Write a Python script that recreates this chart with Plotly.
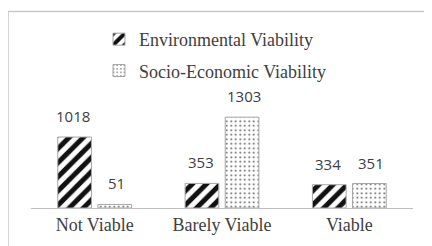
import plotly.graph_objects as go

categories = ["Not Viable", "Barely Viable", "Viable"]
env_values = [1018, 353, 334]
socio_values = [51, 1303, 351]
series_names = ["Environmental Viability", "Socio-Economic Viability"]

TEXT = "#404040"
SERIF = "Liberation Serif, Times New Roman, serif"
SANS = "Open Sans, Liberation Sans, sans-serif"

fig = go.Figure()
fig.add_trace(go.Bar(
    x=categories, y=env_values, name=series_names[0], legendgroup="a",
    marker=dict(color="white", line=dict(color="#a6a6a6", width=1),
                pattern=dict(shape="/", fgcolor="#111111", bgcolor="white",
                             fgopacity=1, fillmode="replace",
                             size=10, solidity=0.5)),
))
fig.add_trace(go.Bar(
    x=categories, y=socio_values, name=series_names[1], legendgroup="b",
    marker=dict(color="white", line=dict(color="#a6a6a6", width=1),
                pattern=dict(shape=".", fgcolor="#555555", bgcolor="white",
                             fgopacity=1, fillmode="replace",
                             size=4.5, solidity=0.14)),
))

# value labels above the bars
for vals, shift in ((env_values, -21.5), (socio_values, 21.5)):
    for c, v in zip(categories, vals):
        fig.add_annotation(x=c, y=v, text=str(v), showarrow=False,
                           xshift=shift, yshift=9, yanchor="bottom",
                           font=dict(family=SANS, size=15, color=TEXT))

# chart border (clipped at right/bottom as in the reference)
fig.add_shape(type="rect", xref="paper", yref="paper",
              x0=-0.0602, x1=1.1, y0=-0.3, y1=1.045,
              line=dict(color="#c8c8c8", width=1.5), fillcolor="rgba(0,0,0,0)",
              layer="below")

fig.update_layout(
    width=432, height=246,
    margin=dict(l=23, r=27, t=12, b=46, autoexpand=False),
    paper_bgcolor="white", plot_bgcolor="white",
    barmode="group", bargap=0.37, bargroupgap=0.16,
    showlegend=True,
    legend=dict(x=0.178, xanchor="left", y=0.995, yanchor="top",
                orientation="v", tracegroupgap=5,
                font=dict(family=SERIF, size=18, color=TEXT),
                bgcolor="rgba(0,0,0,0)", itemwidth=30),
    xaxis=dict(showline=True, linecolor="#bfbfbf", linewidth=1.2,
               ticks="", automargin=False,
               tickfont=dict(family=SERIF, size=18, color=TEXT),
               showgrid=False, fixedrange=True),
    yaxis=dict(range=[0, 2697], visible=False, showgrid=False,
               automargin=False, fixedrange=True),
)

fig.write_html("out.html")
